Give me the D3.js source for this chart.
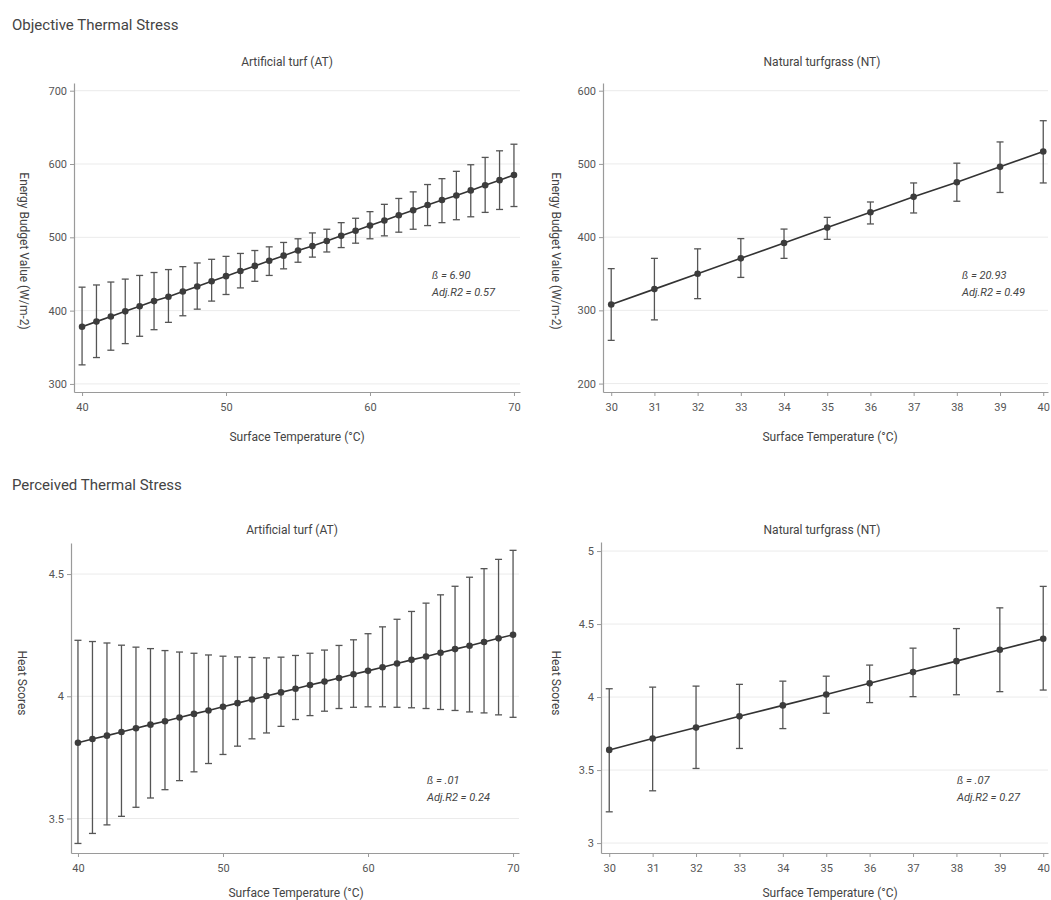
<!DOCTYPE html>
<html>
<head>
<meta charset="utf-8">
<script src="https://cdn.jsdelivr.net/npm/d3@7/dist/d3.min.js"></script>
<style>
  body { margin: 0; background: #fff; }
  text { font-family: Roboto, "Noto Sans", sans-serif; fill: #444; }
</style>
</head>
<body>
<div id="chart"></div>
<script>
// surface temperatures (°C)
const tempAT = [40, 41, 42, 43, 44, 45, 46, 47, 48, 49, 50, 51, 52, 53, 54, 55,
  56, 57, 58, 59, 60, 61, 62, 63, 64, 65, 66, 67, 68, 69, 70]
const tempNT = [30, 31, 32, 33, 34, 35, 36, 37, 38, 39, 40]

// objective thermal stress - artificial turf
const energyAT = [378, 385, 392, 399, 406, 413, 419, 426, 433, 440, 447, 454, 461, 468, 475, 482,
  488, 495, 502, 509, 516, 523, 530, 537, 544, 551, 557, 564, 571, 578, 585]
const energyATLow = [326, 336, 346, 355, 365, 374, 384, 393, 402, 413, 422, 431, 440, 448, 457, 466,
  473, 480, 486, 492, 498, 502, 507, 511, 516, 520, 524, 528, 534, 538, 542]
const energyATHigh = [432, 435, 439, 443, 448, 452, 456, 460, 465, 470, 474, 478, 482, 487, 493, 498,
  506, 511, 520, 526, 535, 545, 553, 562, 572, 580, 590, 599, 609, 618, 627]

// objective thermal stress - natural turfgrass
const energyNT = [308, 329, 350, 371, 392, 413, 434, 455, 475, 496, 517]
const energyNTLow = [259, 287, 316, 345, 371, 397, 418, 433, 449, 461, 474]
const energyNTHigh = [357, 371, 384, 398, 411, 427, 448, 474, 501, 530, 559]

// perceived thermal stress - artificial turf
const heatAT = [3.810, 3.825, 3.839, 3.854, 3.869, 3.884, 3.898, 3.913, 3.928, 3.942, 3.957, 3.972,
  3.987, 4.001, 4.016, 4.031, 4.046, 4.060, 4.075, 4.090, 4.104, 4.119, 4.134, 4.149, 4.163, 4.178,
  4.193, 4.207, 4.222, 4.237, 4.252]
const heatATLow = [3.398, 3.439, 3.474, 3.509, 3.546, 3.584, 3.618, 3.655, 3.691, 3.725, 3.762, 3.796,
  3.826, 3.850, 3.877, 3.905, 3.921, 3.939, 3.950, 3.955, 3.957, 3.957, 3.955, 3.953, 3.950, 3.946,
  3.942, 3.936, 3.932, 3.924, 3.914]
const heatATHigh = [4.229, 4.224, 4.218, 4.209, 4.201, 4.195, 4.187, 4.181, 4.176, 4.169, 4.164, 4.161,
  4.159, 4.157, 4.160, 4.167, 4.176, 4.189, 4.208, 4.231, 4.256, 4.284, 4.315, 4.347, 4.381, 4.415,
  4.450, 4.487, 4.522, 4.560, 4.597]

// perceived thermal stress - natural turfgrass
const heatNT = [3.638, 3.716, 3.791, 3.868, 3.943, 4.018, 4.094, 4.171, 4.246, 4.324, 4.399]
const heatNTLow = [3.214, 3.358, 3.511, 3.648, 3.784, 3.889, 3.962, 4.003, 4.016, 4.037, 4.048]
const heatNTHigh = [4.057, 4.068, 4.075, 4.087, 4.109, 4.143, 4.219, 4.335, 4.469, 4.611, 4.758]

// tick labels
const ticksXAT = [40, 50, 60, 70]
const ticksXNT = [30, 31, 32, 33, 34, 35, 36, 37, 38, 39, 40]
const ticksEnergyAT = [300, 400, 500, 600, 700]
const ticksEnergyNT = [200, 300, 400, 500, 600]
const ticksHeatAT = [3.5, 4, 4.5]
const ticksHeatNT = [3, 3.5, 4, 4.5, 5]

const width = 1051,
    height = 900

let svg = d3.select("#chart")
    .append("svg")
    .attr("width", width)
    .attr("height", height)

//section titles
svg.append("text")
    .attr("x", 12)
    .attr("y", 30)
    .style("font-size", "15px")
    .text("Objective Thermal Stress")
svg.append("text")
    .attr("x", 12)
    .attr("y", 490)
    .style("font-size", "15px")
    .text("Perceived Thermal Stress")

/**
 * draws one panel: grid, axes, error bars, line, points and labels
 */
function drawPanel(p) {
    let x = d3.scaleLinear().domain(p.xDomain).range(p.xRange)
    let y = d3.scaleLinear().domain(p.yDomain).range(p.yRange)
    let g = svg.append("g")

    //gridlines
    g.selectAll(".grid")
        .data(p.yTicks)
        .enter()
        .append("line")
        .style("stroke", "#ebebeb")
        .style("stroke-width", 1)
        .attr("x1", p.xRange[0])
        .attr("x2", p.xRange[1])
        .attr("y1", d => y(d))
        .attr("y2", d => y(d))

    //axes
    let xAxis = d3.axisBottom(x).tickValues(p.xTicks).tickSize(4).tickSizeOuter(0).tickFormat(d3.format("d"))
    let yAxis = d3.axisLeft(y).tickValues(p.yTicks).tickSize(4).tickSizeOuter(0).tickFormat(d => String(d))

    let gx = g.append("g")
        .attr("transform", `translate(0,${p.yRange[0]})`)
        .call(xAxis)
    let gy = g.append("g")
        .attr("transform", `translate(${p.xRange[0]},0)`)
        .call(yAxis)
    ;[gx, gy].forEach(a => {
        a.select(".domain").style("stroke", "#9a9a9a").style("stroke-width", 1.2)
        a.selectAll(".tick line").style("stroke", "#9a9a9a")
        a.selectAll(".tick text").style("font-size", "11px").style("fill", "#555")
            .style("font-family", "Roboto, sans-serif")
    })
    gx.selectAll(".tick text").attr("dy", "1.05em")

    let rows = p.xs.map((t, i) => ({ t: t, m: p.mean[i], lo: p.lo[i], hi: p.hi[i] }))

    //error bars
    g.selectAll(".err")
        .data(rows)
        .enter()
        .append("line")
        .style("stroke", "#555")
        .style("stroke-width", 1.3)
        .attr("x1", d => x(d.t))
        .attr("x2", d => x(d.t))
        .attr("y1", d => y(d.lo))
        .attr("y2", d => y(d.hi))
    ;["lo", "hi"].forEach(k => {
        g.selectAll(".cap-" + k)
            .data(rows)
            .enter()
            .append("line")
            .style("stroke", "#555")
            .style("stroke-width", 1.3)
            .attr("x1", d => x(d.t) - 3.5)
            .attr("x2", d => x(d.t) + 3.5)
            .attr("y1", d => y(d[k]))
            .attr("y2", d => y(d[k]))
    })

    //fitted line
    g.append("path")
        .datum(rows)
        .style("fill", "none")
        .style("stroke", "#333")
        .style("stroke-width", 1.6)
        .attr("d", d3.line().x(d => x(d.t)).y(d => y(d.m)))

    //points
    g.selectAll(".pt")
        .data(rows)
        .enter()
        .append("circle")
        .style("fill", "#3c3c3c")
        .attr("cx", d => x(d.t))
        .attr("cy", d => y(d.m))
        .attr("r", 3.3)

    //panel title
    g.append("text")
        .attr("x", p.title[1])
        .attr("y", p.title[2])
        .attr("text-anchor", "middle")
        .style("font-size", "12px")
        .text(p.title[0])

    //x label
    g.append("text")
        .attr("x", p.xLabel[0])
        .attr("y", p.xLabel[1])
        .attr("text-anchor", "middle")
        .style("font-size", "12px")
        .text("Surface Temperature (°C)")

    //y label
    g.append("text")
        .attr("transform", `translate(${p.yLabel[1]},${p.yLabel[2]}) rotate(90)`)
        .attr("text-anchor", "middle")
        .style("font-size", "12px")
        .text(p.yLabel[0])

    //coefficients
    p.note.lines.forEach((t, i) => {
        g.append("text")
            .attr("x", p.note.x)
            .attr("y", p.note.y + i * 17)
            .style("font-size", "11px")
            .style("font-style", "italic")
            .text(t)
    })
}

drawPanel({
    xs: tempAT, mean: energyAT, lo: energyATLow, hi: energyATHigh,
    xDomain: [39.44, 70.42], xRange: [74, 520],
    yDomain: [289, 710.5], yRange: [392, 83],
    xTicks: ticksXAT, yTicks: ticksEnergyAT,
    title: ["Artificial turf (AT)", 287, 66],
    xLabel: [297, 441],
    yLabel: ["Energy Budget Value (W/m-2)", 20, 251],
    note: { x: 432, y: 279, lines: ["ß = 6.90", "Adj.R2 = 0.57"] }
})

drawPanel({
    xs: tempNT, mean: energyNT, lo: energyNTLow, hi: energyNTHigh,
    xDomain: [29.81, 40.11], xRange: [603, 1048],
    yDomain: [188.5, 610.5], yRange: [392, 83],
    xTicks: ticksXNT, yTicks: ticksEnergyNT,
    title: ["Natural turfgrass (NT)", 822, 66],
    xLabel: [830, 441],
    yLabel: ["Energy Budget Value (W/m-2)", 552, 251],
    note: { x: 962, y: 279, lines: ["ß = 20.93", "Adj.R2 = 0.49"] }
})

drawPanel({
    xs: tempAT, mean: heatAT, lo: heatATLow, hi: heatATHigh,
    xDomain: [39.52, 70.41], xRange: [71, 519],
    yDomain: [3.359, 4.627], yRange: [853, 543],
    xTicks: ticksXAT, yTicks: ticksHeatAT,
    title: ["Artificial turf (AT)", 292, 534],
    xLabel: [296, 897],
    yLabel: ["Heat Scores", 18, 683],
    note: { x: 427, y: 784, lines: ["ß = .01", "Adj.R2 = 0.24"] }
})

drawPanel({
    xs: tempNT, mean: heatNT, lo: heatNTLow, hi: heatNTHigh,
    xDomain: [29.81, 40.11], xRange: [601, 1048],
    yDomain: [2.932, 5.062], yRange: [853, 542],
    xTicks: ticksXNT, yTicks: ticksHeatNT,
    title: ["Natural turfgrass (NT)", 822, 534],
    xLabel: [830, 897],
    yLabel: ["Heat Scores", 552, 683],
    note: { x: 957, y: 784, lines: ["ß = .07", "Adj.R2 = 0.27"] }
})
</script>
</body>
</html>
